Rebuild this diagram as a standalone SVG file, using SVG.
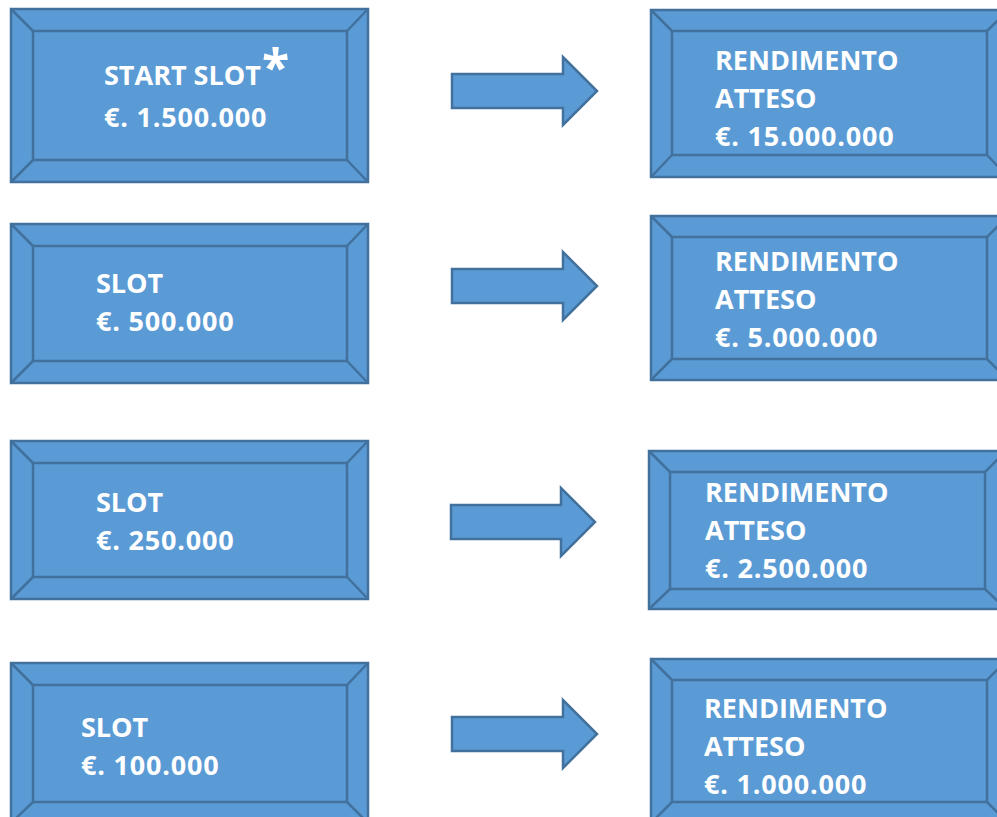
<svg xmlns="http://www.w3.org/2000/svg" width="997" height="817" viewBox="0 0 997 817">
<style>
.box{fill:#5B9BD5;stroke:#41719C;stroke-width:2.5}
.bv{fill:none;stroke:#41719C;stroke-width:2.5}
.arr{fill:#5B9BD5;stroke:#41719C;stroke-width:2.5;stroke-linejoin:miter}
.t{font-family:"Open Sans","Liberation Sans",sans-serif;font-weight:bold;font-size:27px;fill:#FFFFFF}
.n{letter-spacing:0.8px}
.ast{font-family:"Open Sans","Liberation Sans",sans-serif;font-weight:bold;font-size:50px;fill:#FFFFFF}
</style>
<rect width="997" height="817" fill="#FFFFFF"/>

<g id="slot1">
<rect class="box" x="11" y="9" width="357" height="173"/>
<rect class="bv" x="33" y="31" width="314" height="129"/>
<path class="bv" d="M11 9L33 31M368 9L347 31M11 182L33 160M368 182L347 160"/>
<text class="t" x="104" y="85">START SLOT</text>
<text class="ast" x="262" y="85">*</text>
<text class="t n" x="104" y="127">€. 1.500.000</text>
</g>

<g id="slot2">
<rect class="box" x="11" y="224" width="357" height="159"/>
<rect class="bv" x="33" y="246" width="314" height="115"/>
<path class="bv" d="M11 224L33 246M368 224L347 246M11 383L33 361M368 383L347 361"/>
<text class="t" x="96" y="293">SLOT</text>
<text class="t n" x="96" y="331">€. 500.000</text>
</g>

<g id="slot3">
<rect class="box" x="11" y="441" width="357" height="158"/>
<rect class="bv" x="33" y="463" width="314" height="114"/>
<path class="bv" d="M11 441L33 463M368 441L347 463M11 599L33 577M368 599L347 577"/>
<text class="t" x="96" y="512">SLOT</text>
<text class="t n" x="96" y="550">€. 250.000</text>
</g>

<g id="slot4">
<rect class="box" x="11" y="663" width="357" height="160"/>
<rect class="bv" x="33" y="685" width="314" height="117"/>
<path class="bv" d="M11 663L33 685M368 663L347 685M11 823L33 802M368 823L347 802"/>
<text class="t" x="81" y="737">SLOT</text>
<text class="t n" x="81" y="775">€. 100.000</text>
</g>

<g id="ret1">
<rect class="box" x="651" y="10" width="357" height="167"/>
<rect class="bv" x="672" y="31" width="315" height="124"/>
<path class="bv" d="M651 10L672 31M1008 10L987 31M651 177L672 155M1008 177L987 155"/>
<text class="t" x="715" y="70">RENDIMENTO</text>
<text class="t" x="715" y="108">ATTESO</text>
<text class="t n" x="715" y="146">€. 15.000.000</text>
</g>

<g id="ret2">
<rect class="box" x="651" y="216" width="357" height="164"/>
<rect class="bv" x="672" y="237" width="315" height="122"/>
<path class="bv" d="M651 216L672 237M1008 216L987 237M651 380L672 359M1008 380L987 359"/>
<text class="t" x="715" y="271">RENDIMENTO</text>
<text class="t" x="715" y="309">ATTESO</text>
<text class="t n" x="715" y="347">€. 5.000.000</text>
</g>

<g id="ret3">
<rect class="box" x="649" y="451" width="357" height="158"/>
<rect class="bv" x="670" y="472" width="315" height="117"/>
<path class="bv" d="M649 451L670 472M1006 451L985 472M649 609L670 589M1006 609L985 589"/>
<text class="t" x="705" y="502">RENDIMENTO</text>
<text class="t" x="705" y="540">ATTESO</text>
<text class="t n" x="705" y="578">€. 2.500.000</text>
</g>

<g id="ret4">
<rect class="box" x="651" y="659" width="357" height="164"/>
<rect class="bv" x="672" y="680" width="315" height="122"/>
<path class="bv" d="M651 659L672 680M1008 659L987 680M651 823L672 802M1008 823L987 802"/>
<text class="t" x="704" y="718">RENDIMENTO</text>
<text class="t" x="704" y="756">ATTESO</text>
<text class="t n" x="704" y="794">€. 1.000.000</text>
</g>

<g id="connectors">
<path class="arr" d="M452 74H563V57L597 91L563 125V108H452Z"/>
<path class="arr" d="M452 269H563V252L597 286L563 320V303H452Z"/>
<path class="arr" d="M451 505H561V488L595 522L561 556V539H451Z"/>
<path class="arr" d="M452 717H563V700L597 734L563 768V751H452Z"/>
</g>
</svg>
